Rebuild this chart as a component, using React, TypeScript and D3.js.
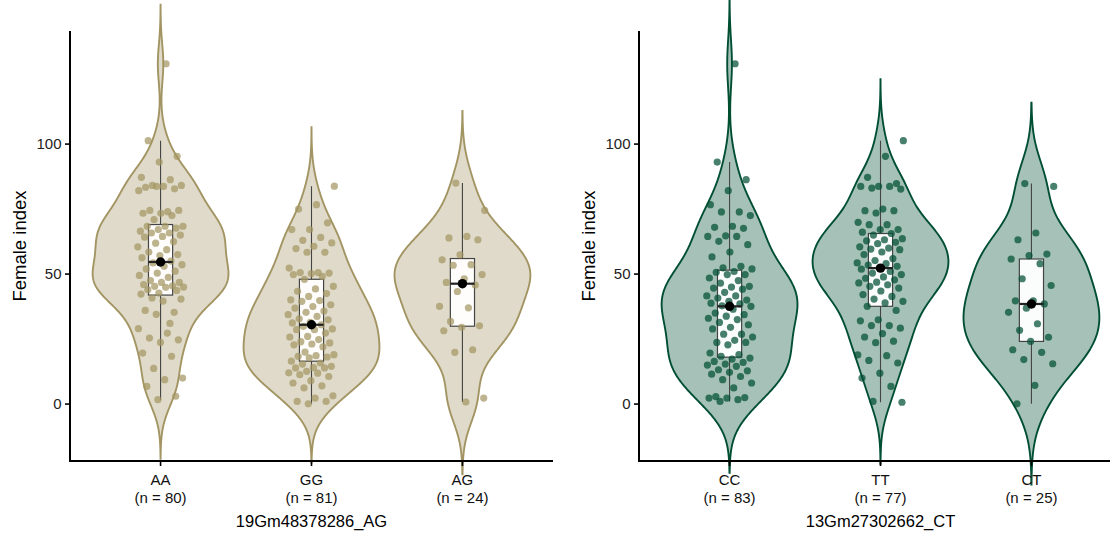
import React from "react";
import * as d3 from "d3";

// ---------- data ----------
const leftCategories = ["AA", "GG", "AG"];
const rightCategories = ["CC", "TT", "CT"];
const leftTitle = "19Gm48378286_AG";
const rightTitle = "13Gm27302662_CT";
const yLabel = "Female index";
const yTicks = [0, 50, 100];

const AA = [130.9, 101.3, 95.3, 93.1, 87.2, 86.3, 84.1, 84.1, 83.7, 83.4, 82.8, 83.7, 82.1, 74.0, 74.5, 74.5, 73.4, 73.4, 72.5, 71.0,
  68.4, 68.4, 68.4, 67.7, 67.1, 66.5, 65.8, 65.8, 65.0, 64.5, 64.2, 62.5, 61.9, 60.5, 59.4, 58.5, 57.5, 57.1, 56.3, 55.0,
  54.3, 53.6, 53.0, 52.0, 51.1, 50.4, 49.5, 48.7, 47.5, 46.8, 46.8, 46.0, 45.5, 45.3, 45.0, 44.9, 44.0, 43.7, 42.7, 42.3,
  31.0, 40.8, 40.4, 39.6, 36.0, 35.3, 34.5, 29.0, 27.3, 25.4, 24.7, 23.7, 19.6, 18.4, 13.7, 10.0, 9.4, 6.8, 3.0, 1.7];

const GG = [83.8, 76.7, 75.0, 69.7, 67.1, 67.1, 64.1, 63.0, 62.0, 60.7, 59.8, 58.4, 58.4, 52.3, 50.6, 50.6, 50.4, 50.2, 49.8, 49.1,
  48.0, 45.3, 44.3, 43.4, 42.5, 41.4, 40.1, 39.8, 39.5, 38.2, 37.5, 36.9, 35.8, 35.3, 34.4, 33.7, 32.8, 32.4, 31.4, 31.2,
  30.5, 29.9, 28.9, 28.6, 28.6, 27.3, 26.0, 25.8, 24.8, 24.0, 23.5, 23.1, 22.8, 22.0, 20.0, 19.0, 18.6, 18.4, 18.1, 17.8,
  16.5, 15.8, 15.4, 14.5, 14.0, 13.9, 13.9, 12.6, 12.0, 11.9, 11.3, 10.6, 9.0, 8.1, 7.0, 6.2, 3.2, 2.3, 1.0, 1.0, 0.1];

const AG = [85.0, 74.5, 64.5, 63.9, 63.2, 57.4, 55.5, 53.6, 53.4, 49.8, 48.2, 46.8, 45.8, 43.3, 37.6, 37.0, 31.8, 30.1, 29.5, 28.2,
  20.9, 19.9, 2.3, 0.8];

const CC = [130.9, 93.1, 86.3, 82.1, 76.7, 73.9, 73.9, 72.5, 68.4, 68.0, 67.6, 64.7, 64.5, 64.5, 62.6, 61.3, 58.5, 56.6, 53.0, 52.4,
  52.0, 51.0, 50.7, 49.8, 49.8, 48.5, 47.5, 46.5, 45.3, 45.0, 44.6, 44.2, 43.0, 41.6, 41.6, 40.8, 40.0, 39.5, 38.8, 38.5,
  37.8, 37.6, 36.5, 35.0, 34.4, 33.8, 33.0, 32.5, 31.4, 30.5, 29.5, 28.9, 26.9, 26.9, 25.8, 24.5, 23.7, 23.7, 22.8, 19.6,
  19.0, 18.4, 17.7, 17.3, 16.4, 16.0, 15.4, 15.0, 14.5, 13.2, 12.8, 12.2, 11.5, 10.6, 9.4, 8.1, 6.2, 2.9, 2.5, 2.3, 2.3, 1.7, 1.0];

const TT = [101.3, 95.3, 87.2, 84.8, 83.7, 83.7, 83.7, 83.1, 82.7, 75.0, 74.4, 74.4, 73.5, 69.9, 69.0, 69.0, 67.1, 67.1, 66.1, 65.6,
  65.0, 63.6, 63.2, 62.8, 62.2, 61.7, 60.5, 60.0, 59.6, 59.4, 58.5, 57.5, 56.0, 55.2, 54.3, 54.0, 53.5, 53.0, 52.3, 51.9,
  51.0, 50.4, 49.8, 48.9, 48.4, 47.8, 46.9, 46.6, 45.9, 45.3, 44.6, 43.5, 42.1, 41.4, 40.4, 39.5, 38.9, 37.6, 36.0, 32.4,
  32.0, 30.2, 30.2, 29.2, 27.1, 25.8, 24.2, 23.6, 18.9, 18.6, 16.8, 15.8, 11.9, 10.0, 6.8, 1.0, 0.7];

const CT = [84.8, 83.7, 65.8, 63.2, 57.7, 57.1, 55.8, 54.0, 48.2, 45.6, 39.7, 39.7, 38.5, 36.9, 35.3, 30.9, 28.4, 25.7, 24.1, 20.9,
  19.9, 17.1, 15.5, 7.2, 0.1];

const leftSeries = [AA, GG, AG];
const rightSeries = [CC, TT, CT];

// ---------- layout / style ----------
const W = 1110;
const H = 533;
const Y_TOP = 31;
const Y_BOT = 461;
const PANEL_W = 483;
const FONT = "'Liberation Sans', Arial, Helvetica, sans-serif";

const yScale = d3.scaleLinear().domain([-21.9, 143.5]).range([Y_BOT, Y_TOP]);

function bwNrd0(x: number[]) {
  const s = [...x].sort(d3.ascending);
  const sd = d3.deviation(s) as number;
  const iqr = (d3.quantileSorted(s, 0.75) as number) - (d3.quantileSorted(s, 0.25) as number);
  let lo = Math.min(sd, iqr / 1.34);
  if (!(lo > 0)) lo = sd || Math.abs(s[0]) || 1;
  return 0.9 * lo * Math.pow(s.length, -0.2);
}

function violinPoints(x: number[]) {
  const bw = bwNrd0(x);
  const lo = (d3.min(x) as number) - 3 * bw;
  const hi = (d3.max(x) as number) + 3 * bw;
  const n = 512;
  const pts: { v: number; d: number }[] = [];
  for (let i = 0; i < n; i++) {
    const v = lo + ((hi - lo) * i) / (n - 1);
    let s = 0;
    for (const xi of x) {
      const z = (v - xi) / bw;
      s += Math.exp(-0.5 * z * z);
    }
    pts.push({ v, d: s / (x.length * bw * Math.sqrt(2 * Math.PI)) });
  }
  const mx = d3.max(pts, (p) => p.d) as number;
  return pts.map((p) => ({ v: p.v, w: p.d / mx }));
}

function boxStats(x: number[]) {
  const s = [...x].sort(d3.ascending);
  const q1 = d3.quantileSorted(s, 0.25) as number;
  const med = d3.quantileSorted(s, 0.5) as number;
  const q3 = d3.quantileSorted(s, 0.75) as number;
  const iqr = q3 - q1;
  const lo = d3.min(s.filter((v) => v >= q1 - 1.5 * iqr)) as number;
  const hi = d3.max(s.filter((v) => v <= q3 + 1.5 * iqr)) as number;
  return { q1, med, q3, lo, hi };
}

function Panel({ x0, cats, series, title, stroke }: { x0: number; cats: string[]; series: number[][]; title: string; stroke: string }) {
  const xScale = d3.scalePoint<string>().domain(cats).range([x0, x0 + PANEL_W]).padding(0.6);
  const step = xScale.step();
  const halfW = 0.45 * step;
  const boxHalf = 0.08 * step;
  const jitterW = 0.155 * step;
  const area = d3.area<{ v: number; w: number }>().y((d) => yScale(d.v));

  return (
    <g>
      {series.map((vals, i) => {
        const cx = xScale(cats[i]) as number;
        const vp = violinPoints(vals);
        const path = area.x0((d) => cx - d.w * halfW).x1((d) => cx + d.w * halfW)(vp) as string;
        return <path key={"v" + i} d={path} fill={stroke} fillOpacity={0.35} stroke={stroke} strokeWidth={1.9} />;
      })}
      {series.map((vals, i) => {
        const cx = xScale(cats[i]) as number;
        const b = boxStats(vals);
        return (
          <g key={"b" + i}>
            <line x1={cx} x2={cx} y1={yScale(b.hi)} y2={yScale(b.q3)} stroke="#444" strokeWidth={1.1} />
            <line x1={cx} x2={cx} y1={yScale(b.q1)} y2={yScale(b.lo)} stroke="#444" strokeWidth={1.1} />
            <rect x={cx - boxHalf} y={yScale(b.q3)} width={2 * boxHalf} height={yScale(b.q1) - yScale(b.q3)}
              fill="#ffffff" fillOpacity={0.95} stroke="#444" strokeWidth={1.2} />
          </g>
        );
      })}
      {series.map((vals, i) => {
        const cx = xScale(cats[i]) as number;
        return (
          <g key={"p" + i}>
            {vals.map((v, j) => {
              const u = ((j + 1) * 0.6180339887 + i * 0.37) % 1;
              return <circle key={j} cx={cx + (u * 2 - 1) * jitterW} cy={yScale(v)} r={3.6} fill={stroke} fillOpacity={0.72} />;
            })}
          </g>
        );
      })}
      {series.map((vals, i) => {
        const cx = xScale(cats[i]) as number;
        const b = boxStats(vals);
        return (
          <g key={"m" + i}>
            <line x1={cx - boxHalf} x2={cx + boxHalf} y1={yScale(b.med)} y2={yScale(b.med)} stroke="#222" strokeWidth={2.2} />
            <circle cx={cx} cy={yScale(b.med)} r={4.7} fill="#000" />
          </g>
        );
      })}
      <line x1={x0} x2={x0} y1={Y_TOP} y2={Y_BOT + 1} stroke="#000" strokeWidth={2} />
      <line x1={x0 - 1} x2={x0 + PANEL_W} y1={Y_BOT} y2={Y_BOT} stroke="#000" strokeWidth={2} />
      {yTicks.map((t) => (
        <g key={"yt" + t}>
          <line x1={x0 - 5} x2={x0} y1={yScale(t)} y2={yScale(t)} stroke="#000" strokeWidth={1.6} />
          <text x={x0 - 8.5} y={yScale(t)} dy="0.36em" textAnchor="end" fontSize={15} fontFamily={FONT} fill="#222">
            {t}
          </text>
        </g>
      ))}
      {cats.map((c, i) => {
        const cx = xScale(c) as number;
        return (
          <g key={"xt" + c}>
            <line x1={cx} x2={cx} y1={Y_BOT} y2={Y_BOT + 5} stroke="#000" strokeWidth={1.6} />
            <text x={cx} y={480} dy="0.36em" textAnchor="middle" fontSize={15} fontFamily={FONT} fill="#111">{c}</text>
            <text x={cx} y={498} dy="0.36em" textAnchor="middle" fontSize={15} fontFamily={FONT} fill="#111">
              {`(n = ${series[i].length})`}
            </text>
          </g>
        );
      })}
      <text x={x0 + PANEL_W / 2} y={521} dy="0.36em" textAnchor="middle" fontSize={16.5} fontFamily={FONT} fill="#000">
        {title}
      </text>
      <text transform={`translate(${x0 - 51},${(Y_TOP + Y_BOT) / 2}) rotate(-90)`} textAnchor="middle" dy="0.36em"
        fontSize={18.5} fontFamily={FONT} fill="#000">
        {yLabel}
      </text>
    </g>
  );
}

export default function App() {
  return (
    <svg width={W} height={H} style={{ position: "absolute", left: 0, top: 0, background: "#fff" }}>
      <rect width={W} height={H} fill="#fff" />
      <Panel x0={70} cats={leftCategories} series={leftSeries} title={leftTitle} stroke="#A39563" />
      <Panel x0={639} cats={rightCategories} series={rightSeries} title={rightTitle} stroke="#004F33" />
    </svg>
  );
}
